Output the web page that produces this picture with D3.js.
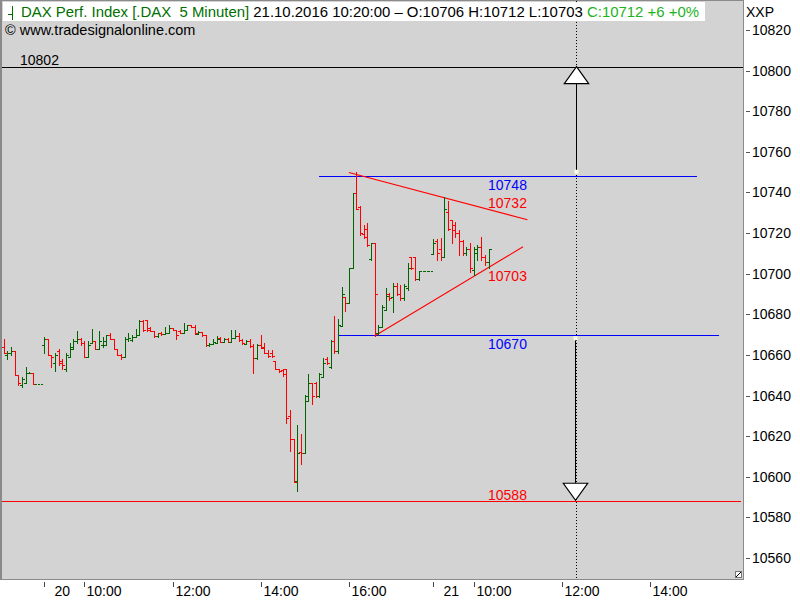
<!DOCTYPE html>
<html><head><meta charset="utf-8">
<script src="https://cdn.jsdelivr.net/npm/d3@7"></script>
<style>
body{margin:0;background:#fff;}
svg{display:block;font-family:"Liberation Sans",Arial,sans-serif;}
text{white-space:pre;}
</style></head><body>
<svg id="c" width="800" height="600"></svg>
<script>
// ---- data (5-minute OHLC bars, DAX, 19.10 end .. 21.10.2016 10:20) ----
const opens = [
10664,10660,10661,10662,10650,10645,10646,10651,10651,10645.5,10645.5,
10665,10668,10660,10656,10662,10657,10653,10659,10663,10667,
10668,10666,10659,10666,10667,10663,10665,10665,10670,10668,
10663,10660,10659,10668,10667.5,10669,10670,10676.5,10677,10673.5,
10672,10669.5,10671,10670.5,10671,10673.5,10672.5,10672,10671,10672.5,
10675,10674,10670.3,10671.2,10670,10664.7,10665.3,10666,10668.5,10666.3,
10668,10666.5,10668.5,10669.5,10667.5,10665.5,10667,10664.5,10658.3,10665,
10664,10660.8,10661,10656.9,10653,10652.6,10653,10630,10618.5,10598,
10612,10611.6,10637.5,10646,10646,10640,10649.3,10658,10654,10667,
10662,10674.3,10688.7,10685.4,10702.6,10739.9,10733,10719.6,10722,10707.1,
10715,10671,10674,10682,10690,10688.5,10694,10690,10688,10693,
10708.4,10708,10697.2,10701.5,10701.5,10701.5,10709.7,10716,10712,10708.4,
10730.6,10726.5,10724,10720,10716,10710,10712,10702,10710,10713,
10708,10706];
const highs = [
10668,10662,10664,10662,10650,10649,10654,10651.5,10651,10645.5,10645.5,
10669,10668,10660,10661,10663,10658,10661,10666,10668,10672,
10668.5,10667,10667,10673,10667,10672,10669,10670,10671,10668,
10663,10660.5,10669,10671,10670,10673,10677,10677,10677.2,10674,
10672,10671,10671.5,10674,10675,10673.5,10672.5,10672.3,10675.6,10675,
10675,10674.8,10671.8,10671.2,10670,10665.7,10668,10669.5,10669,10668.5,
10668.5,10672.3,10672.3,10670.7,10668,10667.4,10668,10665.4,10665.4,10669.8,
10666,10662.5,10662.5,10656.9,10653,10653,10653,10632.9,10618.5,10625.5,
10621,10640.3,10650.6,10646,10646.9,10651,10658.3,10658.8,10667.4,10679.2,
10677.5,10693.3,10688.7,10702.6,10739.9,10750,10733.3,10724,10724.8,10715.3,
10715.3,10674.8,10684.6,10692.8,10690.3,10695.3,10695.3,10694.4,10695,10705.1,
10708.4,10708.4,10701.5,10701.5,10701.5,10701.5,10716.9,10716.9,10717.4,10737.6,
10736,10726.5,10725.6,10721.5,10716.6,10713.3,10715,10713.3,10714.2,10718.2,
10709.2,10712];
const lows = [
10661,10658,10660,10650,10645,10644,10646,10651,10645.5,10645.5,10645.5,
10661,10660,10654,10652,10655,10653,10652,10659,10663,10666,
10665,10659,10659,10666,10663,10663,10664,10665,10668,10663,
10660,10658,10659,10667,10667,10669,10670,10672,10672,10671.8,
10669,10669,10670,10670.5,10671,10672.3,10668,10670.7,10671,10672.3,
10674,10670.2,10670.2,10669.5,10664.6,10664.6,10665.2,10665.7,10666.2,10666.2,
10666.2,10666.2,10668.5,10667,10665.2,10665.2,10664.1,10651.3,10657.9,10663.3,
10660.8,10659.2,10659.2,10653.1,10651.8,10649.6,10626.7,10612.9,10597.6,10593.2,
10606.3,10611.6,10637.5,10635.9,10639.5,10639.5,10649.3,10655.6,10653.4,10661.1,
10661.1,10674.3,10681.8,10685.4,10702.6,10731.7,10719.1,10717.4,10713.6,10706.8,
10669.5,10669.8,10673.9,10682,10687.1,10681.3,10689.5,10687.1,10687,10692,
10702.2,10696.9,10697,10701.5,10701.5,10701.5,10709.5,10706.8,10706.8,10708.4,
10721.5,10715,10718.2,10709.2,10709.2,10709.2,10701,10699.4,10706.8,10706.8,
10704.3,10703];
const closes = [
10661,10661,10662,10650,10646,10648,10651,10651,10645.5,10645.5,10645.5,
10668,10660,10659,10660,10656,10655,10660,10664,10667,10668,
10666,10659,10665,10667,10663,10667,10667,10670,10668,10663,
10660,10659,10668,10668.5,10669,10670,10676.5,10672.5,10672.3,10672,
10669.5,10671,10670.2,10671,10673.5,10672.5,10670,10671,10672.5,10675,
10674,10671,10671.5,10670,10664.7,10665.3,10666.5,10668,10666.5,10668,
10666.5,10668.5,10669.5,10667.2,10665.8,10667,10664.5,10658.3,10665,10663.5,
10661,10659.3,10659.3,10653.3,10652,10650.5,10629,10618.5,10597.6,10611.6,
10611.6,10640,10646,10640,10640,10650.6,10656,10656,10667,10662,
10675,10690,10685.4,10702.6,10739.9,10731.7,10720,10718,10714,10715,
10690,10674,10683.8,10689,10688,10694,10690,10688,10694,10702.7,
10703,10697.2,10701.5,10701.5,10701.5,10701.5,10715,10710,10708,10732,
10722,10721.5,10720,10716,10710,10712,10703,10712,10713,10708,
10706,10712];

const yTicks = [10560,10580,10600,10620,10640,10660,10680,10700,10720,10740,10760,10780,10800,10820];
const xTickIdx = [11,22,46,70,94,117,128,152,176];
const xTickLabels = ["20","10:00","12:00","14:00","16:00","21","10:00","12:00","14:00"];
const dayTicks = [true,false,false,false,false,true,false,false,false];

const resistance = 10802, support = 10588;
const triHigh = 10748, triLow = 10670;
const upperTrend = [[94,10749.8],[142.6,10726.6]];
const lowerTrend = [[101,10669.3],[141.4,10713.3]];
const cursorIdx = 156;
const arrowUp = [10750.2, 10802];
const arrowDown = [10668.2, 10588];

// ---- layout ----
const svg = d3.select("#c");
const x = d3.scaleLinear().domain([0,132]).range([3.5,488.5]);
const y = d3.scaleLinear().domain([10560,10820]).range([558.1,30]);
const GREEN = "#006400", RED = "#ff0000", BLUE = "#0000ff";
const PL = 2, PT = 1, PR = 743, PB = 579;
const last = closes.length - 1;

// plot background
svg.append("rect").attr("x",0).attr("y",0).attr("width",800).attr("height",600).attr("fill","#fff");
svg.append("rect").attr("x",PL).attr("y",PT).attr("width",PR-PL).attr("height",PB-PT).attr("fill","#d3d3d3");
// frame
const fr = svg.append("g").attr("fill","#8a8a8a");
fr.append("rect").attr("x",0).attr("y",0).attr("width",2).attr("height",PB+1);
fr.append("rect").attr("x",0).attr("y",0).attr("width",PR+1).attr("height",1);
fr.append("rect").attr("x",PR).attr("y",0).attr("width",1).attr("height",PB+1);
fr.append("rect").attr("x",0).attr("y",PB).attr("width",PR+1).attr("height",1);

const px = v => Math.round(v);

// cursor dotted line
const cxU = Math.floor(x(cursorIdx)) + 0.5;
svg.append("line").attr("x1",cxU).attr("x2",cxU).attr("y1",PT).attr("y2",PB)
  .attr("stroke","#000").attr("stroke-dasharray","1,2").attr("shape-rendering","crispEdges");

// horizontal levels
function hline(v, x1, x2, color){
  const yy = px(y(v)) + 0.5;
  svg.append("line").attr("x1",x1).attr("x2",x2).attr("y1",yy).attr("y2",yy)
    .attr("stroke",color).attr("stroke-width",1).attr("shape-rendering","crispEdges");
  return yy;
}
const yRes = hline(resistance, PL, PR, "#000");
const ySup = hline(support, PL, PR-2, RED);
const yTH = hline(triHigh, x(86), x(188.8), BLUE);
const yTL = hline(triLow, x(91), x(194.6), BLUE);

// trend lines
function tline(t){
  svg.append("line").attr("x1",x(t[0][0])).attr("y1",y(t[0][1])).attr("x2",x(t[1][0])).attr("y2",y(t[1][1]))
    .attr("stroke",RED).attr("stroke-width",1.1);
}
tline(upperTrend); tline(lowerTrend);
const trendAt = (t,i) => t[0][1] + (i - t[0][0]) * (t[1][1]-t[0][1])/(t[1][0]-t[0][0]);

// bars
const gb = svg.append("g").attr("shape-rendering","crispEdges");
closes.forEach((c,i) => {
  const o = opens[i], h = highs[i], l = lows[i];
  const col = c >= o ? GREEN : RED;
  const cx = px(x(i));
  const yh = px(y(h)), yl = px(y(l));
  if (yl > yh) gb.append("rect").attr("x",cx).attr("y",yh).attr("width",1).attr("height",yl-yh+1).attr("fill",col);
  gb.append("rect").attr("x",cx-2).attr("y",px(y(o))).attr("width",2).attr("height",1).attr("fill",col);
  gb.append("rect").attr("x",cx+1).attr("y",px(y(c))).attr("width",2).attr("height",1).attr("fill",col);
});

// level labels
const lx = x(last) - 0.5;
function lab(txt, xx, yy, color){
  svg.append("text").attr("x",xx).attr("y",yy).attr("fill",color).attr("font-size",14).text(txt);
}
lab(String(resistance), 20, yRes-3, "#000");
lab(String(triHigh), lx, yTH+13.5, BLUE);
lab(String(Math.round(trendAt(upperTrend,last))), lx, y(trendAt(upperTrend,last))-1.5, RED);
lab(String(Math.round(trendAt(lowerTrend,last))), lx, y(trendAt(lowerTrend,last))+13.5, RED);
lab(String(triLow), lx, yTL+13.5, BLUE);
lab(String(support), lx, ySup-2, RED);

// arrows
const cxL = cxU - 1;
const ga = svg.append("g");
const upTip = y(arrowUp[1]), upBase = upTip + 17;
ga.append("line").attr("x1",cxU).attr("x2",cxU).attr("y1",upBase).attr("y2",y(arrowUp[0]))
  .attr("stroke","#000").attr("stroke-width",1.2).attr("shape-rendering","crispEdges");
ga.append("path").attr("d",`M${cxU},${upTip}L${cxU-12.2},${upBase}L${cxU+12.2},${upBase}Z`)
  .attr("fill","#fff").attr("stroke","#000").attr("stroke-width",1.2);
ga.append("rect").attr("x",cxU-2).attr("y",y(arrowUp[0])-2).attr("width",4).attr("height",4).attr("fill","#ffffe0");
const dnTip = y(arrowDown[1]) - 1, dnBase = dnTip - 17;
ga.append("line").attr("x1",cxL).attr("x2",cxL).attr("y1",y(arrowDown[0])).attr("y2",dnBase)
  .attr("stroke","#000").attr("stroke-width",1.2).attr("shape-rendering","crispEdges");
ga.append("path").attr("d",`M${cxL},${dnTip}L${cxL-12.2},${dnBase}L${cxL+12.2},${dnBase}Z`)
  .attr("fill","#fff").attr("stroke","#000").attr("stroke-width",1.2);
ga.append("rect").attr("x",cxL-2).attr("y",y(arrowDown[0])-2).attr("width",4).attr("height",4).attr("fill","#ffffe0");

// header box
svg.append("rect").attr("x",3).attr("y",2).attr("width",702).attr("height",19).attr("fill","#fff");
const hi = svg.append("g").attr("shape-rendering","crispEdges").attr("fill","#007000");
hi.append("rect").attr("x",12).attr("y",6).attr("width",1).attr("height",14);
hi.append("rect").attr("x",8).attr("y",14).attr("width",4).attr("height",1);
const chg = closes[last] - closes[last-1];
const pct = Math.round(chg / closes[last-1] * 100);
const fmt = v => String(Math.round(v));
const ht = svg.append("text").attr("x",21).attr("y",17).attr("font-size",15)
  .attr("textLength",678).attr("lengthAdjust","spacingAndGlyphs");
ht.append("tspan").attr("fill","#007000").text("DAX Perf. Index [.DAX  5 Minuten]");
ht.append("tspan").attr("fill","#000").text(` 21.10.2016 10:20:00 \u2013 O:${fmt(opens[last])} H:${fmt(highs[last])} L:${fmt(lows[last])} `);
ht.append("tspan").attr("fill","#1db31d").text(`C:${fmt(closes[last])} ${chg>=0?"+":""}${fmt(chg)} ${pct>=0?"+":""}${pct}%`);

svg.append("text").attr("x",5).attr("y",35).attr("font-size",14.5).attr("fill","#000")
  .text("\u00a9 www.tradesignalonline.com");

// right axis
const ya = svg.append("g").attr("transform",`translate(${PR+3},0)`)
  .call(d3.axisRight(y).tickValues(yTicks).tickSize(4).tickPadding(2).tickFormat(d3.format("d")));
ya.select(".domain").remove();
ya.selectAll(".tick line").attr("stroke","#555").attr("shape-rendering","crispEdges");
ya.selectAll(".tick text").attr("font-size",14).attr("font-family","Liberation Sans, Arial, sans-serif").attr("fill","#000");
svg.append("text").attr("x",746).attr("y",17).attr("font-size",14).attr("fill","#000").text("XXP");

// bottom axis
const gx = svg.append("g");
xTickIdx.forEach((ti,k) => {
  const tx = px(x(ti)) + 0.5;
  gx.append("line").attr("x1",tx).attr("x2",tx).attr("y1",PB+3).attr("y2",PB+8)
    .attr("stroke","#444").attr("shape-rendering","crispEdges");
  gx.append("text").attr("x",tx + (dayTicks[k] ? 10 : 2)).attr("y",596).attr("font-size",14)
    .attr("fill","#000").text(xTickLabels[k]);
});

// resize grip
svg.append("rect").attr("x",735.5).attr("y",571.5).attr("width",6).attr("height",6).attr("fill","#fff").attr("stroke","#777");
svg.append("line").attr("x1",736).attr("y1",577).attr("x2",741).attr("y2",572).attr("stroke","#000");
</script>
</body></html>
